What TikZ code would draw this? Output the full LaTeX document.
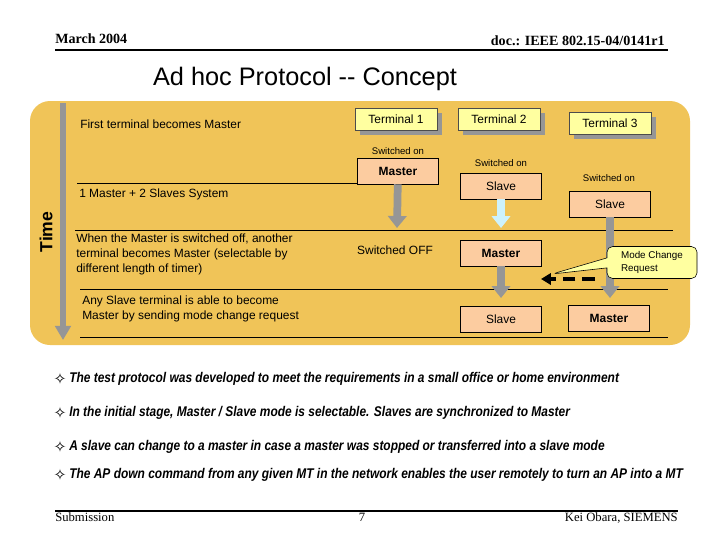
\documentclass[tikz,border=0pt]{standalone}
\usepackage{fontspec}
\setmainfont{Liberation Serif}
\setsansfont{Liberation Sans}
\newfontfamily\narrowsans[FakeStretch=0.85]{Liberation Sans}
\newfontfamily\symbolfont{DejaVu Sans}
\usetikzlibrary{arrows.meta, shapes.callouts, shadows}

\definecolor{panelorange}{RGB}{240,196,88}
\definecolor{termyellow}{RGB}{255,255,160}
\definecolor{statepeach}{RGB}{252,204,160}
\definecolor{arrowgray}{RGB}{150,150,150}
\definecolor{slavecyan}{RGB}{205,242,252}

\begin{document}
\begin{tikzpicture}[x=0.025cm, y=-0.025cm]
  \tikzstyle{terminal} = [rectangle, minimum width=2.05cm, minimum height=0.55cm, draw=black!70, fill=termyellow, font=\sffamily\fontsize{8.5}{10}\selectfont, drop shadow={shadow xshift=3.5pt, shadow yshift=-3.5pt, fill=arrowgray, opacity=1}]
  \tikzstyle{state} = [rectangle, minimum width=2.03cm, minimum height=0.65cm, draw=black, fill=statepeach, font=\sffamily\fontsize{8.5}{10}\selectfont]
  \tikzstyle{switchlabel} = [font=\sffamily\fontsize{6.8}{8}\selectfont, inner sep=1pt]
  \tikzstyle{note} = [anchor=west, align=left, inner sep=0pt, font=\sffamily\fontsize{8.5}{10.7}\selectfont]
  \tikzstyle{timeflow} = [line width=4.3pt, draw=arrowgray, -{Triangle[width=11pt,length=10pt]}]
  \tikzstyle{moveto} = [line width=5.5pt, draw=arrowgray, -{Triangle[width=13pt,length=8.5pt]}]
  \tikzstyle{separator} = [line width=0.6pt, black]
  \tikzstyle{bulletmark} = [font=\symbolfont\fontsize{11}{12}\selectfont, inner sep=0pt]
  \tikzstyle{bullettext} = [anchor=west, inner sep=0pt, font=\narrowsans\bfseries\itshape\fontsize{10}{11}\selectfont]

  \useasboundingbox (0,0) rectangle (720,540);
  \fill[white] (0,0) rectangle (720,540);

  % Header and title
  \node (month) at (55,43) [anchor=base west, inner sep=0pt, font=\bfseries\fontsize{10}{12}\selectfont] {March 2004};
  \node (docid) at (665,45) [anchor=base east, inner sep=0pt, font=\bfseries\fontsize{10}{12}\selectfont] {doc.: IEEE 802.15-04/0141r1};
  \draw[line width=1.2pt] (55,50) -- (668,50);
  \node (title) at (305,79) [font=\sffamily\fontsize{18}{20}\selectfont] {Ad hoc Protocol -{}- Concept};

  % Panel and time axis
  \fill[panelorange, rounded corners=0.5cm] (30,101) rectangle (690,345);
  \coordinate (timetop) at (63,103);
  \coordinate (timeend) at (63,340);
  \draw[timeflow] (timetop) -- (timeend);
  \node (time) at (46,232) [rotate=90, font=\sffamily\bfseries\fontsize{12.5}{14}\selectfont] {Time};

  % Separators
  \draw[separator] (77,183) -- (358,183);
  \draw[separator] (75,230) -- (673,230);
  \draw[separator] (80,289) -- (668,289);
  \draw[separator] (80,337) -- (668,337);

  % Phase notes
  \node (first) at (80,124) [note] {First terminal becomes Master};
  \node (system) at (79,194) [note] {1 Master + 2 Slaves System};
  \node (switchoff) at (76,254) [note] {When the Master is switched off, another\\terminal becomes Master (selectable by\\different length of timer)};
  \node (anyslave) at (82,308.5) [note] {Any Slave terminal is able to become\\Master by sending mode change request};

  % Terminals
  \node (term1) at (396,119) [terminal] {Terminal 1};
  \node (term2) at (499,119) [terminal] {Terminal 2};
  \node (term3) at (610,123) [terminal] {Terminal 3};

  % Switched on
  \node (on1) at (398,151) [switchlabel] {Switched on};
  \node (on2) at (501,163) [switchlabel] {Switched on};
  \node (on3) at (609,178) [switchlabel] {Switched on};
  \node (master1) at (398,171) [state] {\bfseries Master};
  \node (slave2) at (501,186) [state] {Slave};
  \node (slave3) at (610,204) [state] {Slave};

  % Master switched off
  \node (off1) at (395,250) [note, anchor=center] {Switched OFF};
  \node (master2) at (501,253) [state] {\bfseries Master};

  % Mode change
  \node (slave2b) at (501,319) [state] {Slave};
  \node (master3) at (609,318) [state] {\bfseries Master};

  % Arrows
  \coordinate (tip1) at (397,228);
  \coordinate (tip2) at (501,228);
  \coordinate (tip3) at (610,298);
  \coordinate (tip2b) at (501,298);
  \draw[moveto] (master1) -- (tip1);
  \draw[moveto, draw=slavecyan] (slave2) -- (tip2);
  \draw[moveto] (slave3) -- (tip3);
  \draw[moveto] (master2) -- (tip2b);

  \coordinate (reqstart) at (595,279);
  \coordinate (reqend) at (541,279);
  \draw[line width=2.8pt, dash pattern=on 9pt off 5pt, -{Triangle[width=8pt,length=7pt]}] (reqstart) -- (reqend);

  \coordinate (mcrtip) at (552,274);
  \node (request) at (652,262.5) [rectangle callout, callout absolute pointer={(mcrtip)}, rounded corners=4pt, draw=black, fill=termyellow, minimum width=2.25cm, minimum height=0.8cm, align=left, font=\sffamily\fontsize{7}{9}\selectfont] {Mode Change\\Request};

  % Bullets
  \node (b1) at (60,379) [bulletmark] {✧};
  \node (t1) at (69,379) [bullettext] {The test protocol was developed to meet the requirements in a small office or home environment};
  \node (b2) at (60,413) [bulletmark] {✧};
  \node (t2) at (69,413) [bullettext] {In the initial stage, Master / Slave mode is selectable. Slaves are synchronized to Master};
  \node (b3) at (60,447) [bulletmark] {✧};
  \node (t3) at (69,447) [bullettext] {A slave can change to a master in case a master was stopped or transferred into a slave mode};
  \node (b4) at (60,475) [bulletmark] {✧};
  \node (t4) at (69,475) [bullettext] {The AP down command from any given MT in the network enables the user remotely to turn an AP into a MT};

  % Footer
  \draw[line width=1.4pt] (55,511) -- (678,511);
  \node (submission) at (55,521) [anchor=base west, inner sep=0pt, font=\fontsize{9}{11}\selectfont] {Submission};
  \node (page) at (362,521) [anchor=base, inner sep=0pt, font=\fontsize{9}{11}\selectfont] {7};
  \node (author) at (678,521) [anchor=base east, inner sep=0pt, font=\fontsize{9}{11}\selectfont] {Kei Obara, SIEMENS};
\end{tikzpicture}
\end{document}
